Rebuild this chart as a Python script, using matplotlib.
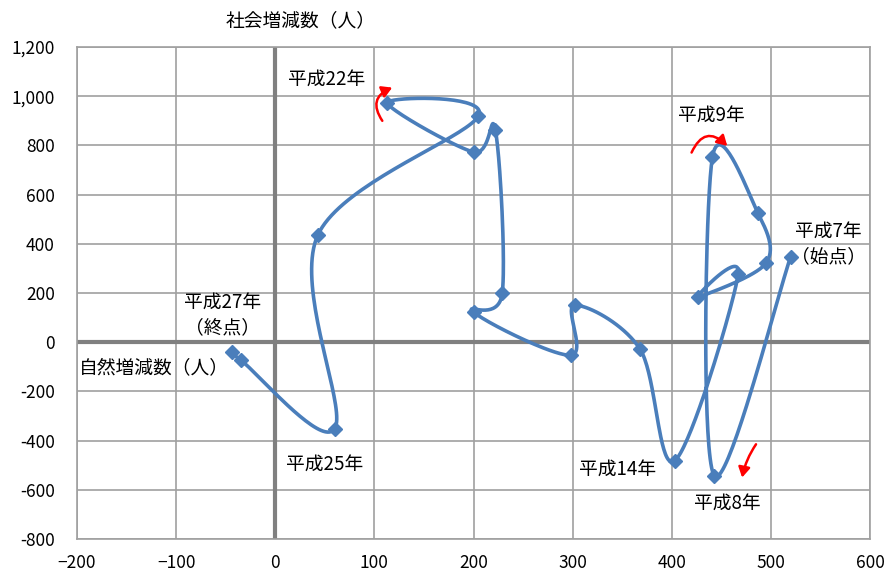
import numpy as np
import matplotlib
matplotlib.use("Agg")
import matplotlib.pyplot as plt
from matplotlib.ticker import FuncFormatter

plt.rcParams['font.family'] = ['Noto Sans CJK JP', 'DejaVu Sans']

# 平成7年 → 平成27年 (natural change, social change)
years = list(range(7, 28))
natural = [520, 443, 441, 487, 495, 426, 467, 403, 368, 302, 298,
           200, 229, 222, 200, 113, 205, 43, 60, -35, -44]
social = [348, -543, 751, 524, 321, 182, 276, -482, -28, 150, -53,
          123, 199, 863, 773, 974, 920, 436, -351, -72, -39]

x_ticks = [-200, -100, 0, 100, 200, 300, 400, 500, 600]
y_ticks = [-800, -600, -400, -200, 0, 200, 400, 600, 800, 1000, 1200]

LINE = '#4a7ebb'
GRID = '#a0a0a0'
AXIS0 = '#808080'


def smooth_path(xs, ys, n=40):
    """Cubic Bezier smoothing through every point (Catmull-Rom tangents)."""
    p = np.column_stack([xs, ys]).astype(float)
    ext = np.vstack([p[0], p, p[-1]])
    out = []
    t = np.linspace(0, 1, n)[:, None]
    for i in range(len(p) - 1):
        p0, p1 = ext[i + 1], ext[i + 2]
        c1 = p0 + (ext[i + 2] - ext[i]) / 6.0
        c2 = p1 - (ext[i + 3] - ext[i + 1]) / 6.0
        seg = ((1 - t) ** 3) * p0 + 3 * ((1 - t) ** 2) * t * c1 \
            + 3 * (1 - t) * t ** 2 * c2 + t ** 3 * p1
        out.append(seg if i == 0 else seg[1:])
    pts = np.vstack(out)
    return pts[:, 0], pts[:, 1]


fig = plt.figure(figsize=(8.86, 5.71), dpi=100)
ax = fig.add_axes([77 / 886, 32 / 571, 793 / 886, 492 / 571])
ax.set_xlim(x_ticks[0], x_ticks[-1])
ax.set_ylim(y_ticks[0], y_ticks[-1])
ax.set_xticks(x_ticks)
ax.set_yticks(y_ticks)
ax.yaxis.set_major_formatter(FuncFormatter(lambda v, _: f"{int(v):,}"))
ax.tick_params(length=0, labelsize=12.5, colors='black')
ax.tick_params(axis='x', pad=11)
ax.tick_params(axis='y', pad=16)

ax.grid(True, color=GRID, linewidth=1.2)
ax.set_axisbelow(True)
for s in ax.spines.values():
    s.set_color(GRID)
    s.set_linewidth(1.2)
ax.axhline(0, color=AXIS0, linewidth=3, zorder=1)
ax.axvline(0, color=AXIS0, linewidth=3, zorder=1)

sx, sy = smooth_path(natural, social)
ax.plot(sx, sy, color=LINE, linewidth=2.6, solid_capstyle='round', zorder=3)
ax.plot(natural, social, linestyle='none', marker='D', markersize=7.5,
        color=LINE, zorder=4)

fs = 13.5
ax.text(26, 1305, '社会増減数（人）', ha='center', va='center', fontsize=fs,
        clip_on=False)
ax.text(-122, -102, '自然増減数（人）', ha='center', va='center', fontsize=fs)
ax.text(52, 1069, '平成22年', ha='center', va='center', fontsize=fs)
ax.text(440, 923, '平成9年', ha='center', va='center', fontsize=fs)
ax.text(558, 400, '平成7年\n（始点）', ha='center', va='center', fontsize=fs,
        linespacing=1.25)
ax.text(-53, 110, '平成27年\n（終点）', ha='center', va='center', fontsize=fs,
        linespacing=1.25)
ax.text(50, -496, '平成25年', ha='center', va='center', fontsize=fs)
ax.text(345, -516, '平成14年', ha='center', va='center', fontsize=fs)
ax.text(456, -654, '平成8年', ha='center', va='center', fontsize=fs)

arrow = dict(arrowstyle='-|>,head_length=0.6,head_width=0.35', color='red',
             lw=1.8, shrinkA=0, shrinkB=0)
ax.annotate('', xy=(118, 1035), xytext=(108, 900),
            arrowprops=dict(arrow, connectionstyle='arc3,rad=-0.6'))
ax.annotate('', xy=(456, 798), xytext=(420, 771),
            arrowprops=dict(arrow, connectionstyle='arc3,rad=-0.7'))
ax.annotate('', xy=(471, -550), xytext=(485, -415),
            arrowprops=dict(arrow, connectionstyle='arc3,rad=0.1'))

fig.savefig('out.png', dpi=100)
